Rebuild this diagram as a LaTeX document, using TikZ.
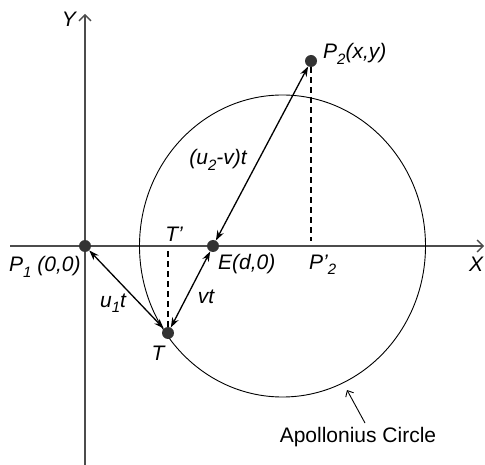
\documentclass[tikz,border=0pt]{standalone}
\usepackage{fontspec}
\setmainfont{Liberation Sans}
\usetikzlibrary{arrows.meta}
\newcommand{\lowsub}[1]{\raisebox{-0.25em}{\fontsize{15}{15}\selectfont #1}}
\begin{document}
\begin{tikzpicture}[x=1pt,y=-1pt,
  axis/.style={draw=black!70,line width=1.3pt,-{Straight Barb[length=6pt,width=12pt,line width=1.3pt]}},
  pt/.style={circle,fill=black!80,inner sep=0pt,minimum size=12pt},
  conn/.style={draw=black,line width=1.3pt,{Stealth[length=10pt,width=7pt]}-{Stealth[length=10pt,width=7pt]}},
  drop/.style={draw=black,line width=1.1pt,dash pattern=on 6pt off 4pt},
  lbl/.style={font=\fontsize{21}{25}\selectfont\itshape,inner sep=0pt},
  plain/.style={font=\fontsize{21}{25}\selectfont,inner sep=0pt}]
\useasboundingbox (0,0) rectangle (485,465);
% axes
\coordinate (ybot) at (85,465);
\coordinate (ytop) at (85,14);
\coordinate (xl) at (10,246);
\coordinate (xr) at (484,246);
\draw[axis] (ybot) -- (ytop);
\draw[axis] (xl) -- (xr);
% circle
\draw[line width=0.9pt] (282.5,246) ellipse [x radius=143pt, y radius=151pt];
% points
\node[pt] (P1) at (85,246) {};
\node[pt] (E) at (213,246) {};
\node[pt] (P2) at (311,61) {};
\node[pt] (T) at (168,333) {};
\coordinate (Tp) at (168,248);
\coordinate (P2p) at (311,241);
% dashed drops
\draw[drop] (T) -- (Tp);
\draw[drop] (P2) -- (P2p);
% connectors
\draw[conn] (P1) -- (T);
\draw[conn] (E) -- (T);
\draw[conn] (P2) -- (E);
% labels
\node[lbl] (ylab) at (69,19) {Y};
\node[lbl] (xlab) at (476,264) {X};
\node[lbl,anchor=west] (p1lab) at (9,267) {P\lowsub{1} (0,0)};
\node[lbl,anchor=west] (elab) at (218,264) {E(d,0)};
\node[lbl,anchor=west] (p2plab) at (309,265) {P'\lowsub{2}};
\node[lbl] (tplab) at (174,234) {T'};
\node[lbl] (tlab) at (158,353) {T};
\node[lbl] (u1lab) at (113,303) {u\lowsub{1}t};
\node[lbl] (vtlab) at (206,297) {vt};
\node[lbl] (u2lab) at (218,160) {(u\lowsub{2}-v)t};
\node[lbl,anchor=west] (p2lab) at (323,54) {P\lowsub{2}(x,y)};
\node[plain] (apl) at (358,437) {Apollonius Circle};
\coordinate (aplTip) at (347,390);
\coordinate (aplStart) at (365,423);
\draw[line width=0.9pt,-{Straight Barb[length=5pt,width=9pt]}] (aplStart) -- (aplTip);
\end{tikzpicture}
\end{document}
